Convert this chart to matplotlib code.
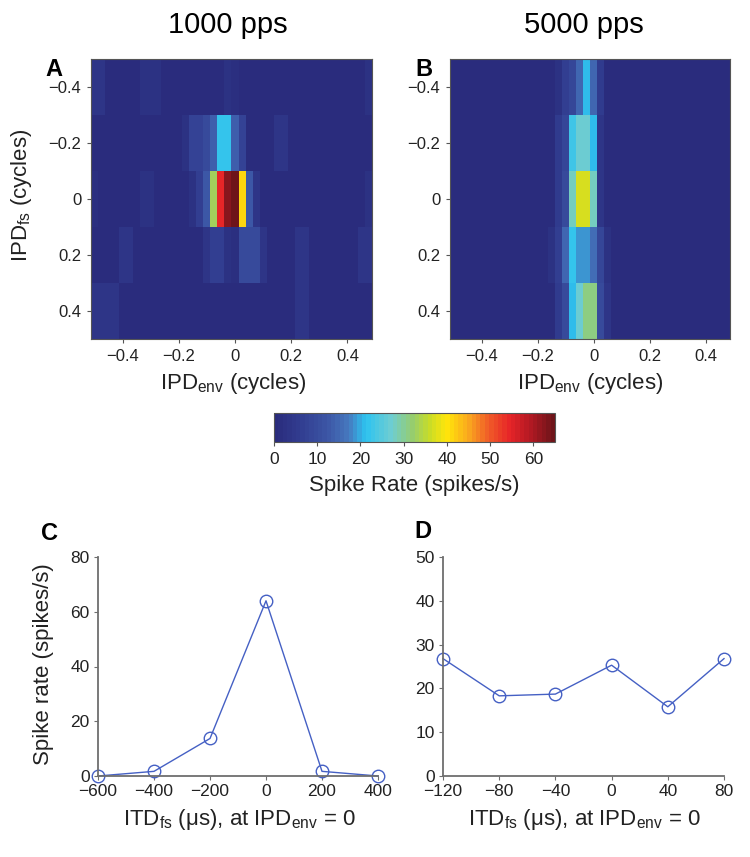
import matplotlib
matplotlib.use("Agg")
import matplotlib.pyplot as plt
import numpy as np
from matplotlib.colors import LinearSegmentedColormap
from matplotlib import font_manager

# ---------------- data ----------------
ipd_env = [round(-0.5 + 0.025 * i, 4) for i in range(40)]   # column centres (cycles)
ipd_fs = [-0.4, -0.2, 0.0, 0.2, 0.4]                         # row centres (cycles)
heat_ticks = [-0.4, -0.2, 0.0, 0.2, 0.4]
heat_tick_labels = ['\u22120.4', '\u22120.2', '0', '0.2', '0.4']

def row(base, cells):
    r = [base] * 40
    for k, v in cells.items():
        r[k] = v
    return r

rate_1000_r0 = row(0.5, {0: 4, 1: 4, 7: 3, 8: 3, 9: 3, 19: 3, 20: 1.7, 39: 2.5})
rate_1000_r1 = row(0.5, {13: 3, 14: 8, 15: 8, 16: 10, 17: 14, 18: 22, 19: 22, 20: 13.7, 21: 8, 26: 3.5, 27: 3.5})
rate_1000_r2 = row(0.5, {0: 2, 7: 3, 8: 3, 14: 3, 15: 7, 16: 13, 17: 33, 18: 54, 19: 62, 20: 64, 21: 41, 22: 13, 23: 4, 39: 2.5})
rate_1000_r3 = row(0.5, {4: 3.5, 5: 3.5, 16: 4, 17: 7, 18: 7, 19: 3, 20: 1.7, 21: 10, 22: 10, 23: 10, 24: 4, 29: 4, 30: 4, 38: 3.5, 39: 3.5})
rate_1000_r4 = row(0.5, {0: 4, 1: 4, 2: 4, 3: 3.5, 20: 0, 29: 3.5, 30: 3.5})

rate_5000_r0 = row(0.5, {15: 3, 16: 7, 17: 9, 18: 15, 19: 21, 20: 15, 21: 6})
rate_5000_r1 = row(0.5, {15: 6, 16: 9, 17: 23, 18: 27, 19: 27, 20: 21, 21: 4})
rate_5000_r2 = row(0.5, {15: 6, 16: 10, 17: 28, 18: 37, 19: 37, 20: 28, 21: 4})
rate_5000_r3 = row(0.5, {14: 3, 15: 7, 16: 15, 17: 22, 18: 19, 19: 19, 20: 16, 21: 9, 22: 3})
rate_5000_r4 = row(0.5, {15: 6, 16: 10, 17: 21, 18: 27, 19: 31, 20: 31, 21: 10, 22: 4})

itd_c = [-600, -400, -200, 0, 200, 400]
rate_c = [0, 1.7, 13.7, 64, 1.7, 0]
itd_d = [-120, -80, -40, 0, 40, 80]
rate_d = [26.8, 18.3, 18.7, 25.3, 15.8, 26.8]

cbar_ticks = [0, 10, 20, 30, 40, 50, 60]
vmax = 65

# ---------------- style ----------------
avail = {f.name for f in font_manager.fontManager.ttflist}
base_font = 'Liberation Sans' if 'Liberation Sans' in avail else 'DejaVu Sans'
plt.rcParams['font.family'] = [base_font, 'DejaVu Sans']
plt.rcParams['mathtext.fontset'] = 'custom'
plt.rcParams['mathtext.rm'] = base_font
plt.rcParams['mathtext.it'] = base_font + ':italic'
plt.rcParams['mathtext.bf'] = base_font + ':bold'

cmap_pts = [
    (0, (42, 44, 125)), (6, (50, 62, 145)), (12, (60, 85, 165)), (17, (70, 120, 190)),
    (21, (45, 195, 240)), (27, (110, 205, 210)), (32, (150, 205, 110)), (36, (200, 220, 40)),
    (40, (255, 230, 10)), (45, (250, 170, 30)), (50, (240, 90, 40)), (55, (230, 35, 40)),
    (60, (175, 25, 35)), (65, (110, 20, 25)),
]
cmap = LinearSegmentedColormap.from_list(
    'printjet', [(v / vmax, tuple(c / 255 for c in col)) for v, col in cmap_pts], N=64)

W, H = 750, 857
fig = plt.figure(figsize=(W / 100, H / 100), dpi=100)

def fx(px):
    return px / W

def fy(py):
    return 1 - py / H

def ax_rect(l, t, r, b):
    return [fx(l), fy(b), (r - l) / W, (b - t) / H]

spine_col = '#555555'
text_col = '#222222'

def heat(ax, rows):
    data = np.array(rows)
    dx = ipd_env[1] - ipd_env[0]
    dy = ipd_fs[1] - ipd_fs[0]
    ext = [ipd_env[0] - dx / 2, ipd_env[-1] + dx / 2, ipd_fs[-1] + dy / 2, ipd_fs[0] - dy / 2]
    im = ax.imshow(data, cmap=cmap, vmin=0, vmax=vmax, extent=ext, aspect='auto',
                   interpolation='nearest')
    ax.set_xticks(heat_ticks)
    ax.set_xticklabels(heat_tick_labels)
    ax.set_yticks(heat_ticks)
    ax.set_yticklabels(heat_tick_labels)
    ax.tick_params(direction='out', length=3, width=0.8, labelsize=12,
                   colors=spine_col, labelcolor=text_col, pad=4)
    for s in ax.spines.values():
        s.set_color(spine_col)
        s.set_linewidth(0.8)
    return im

axA = fig.add_axes(ax_rect(91, 59, 372, 339))
im = heat(axA, [rate_1000_r0, rate_1000_r1, rate_1000_r2, rate_1000_r3, rate_1000_r4])
axB = fig.add_axes(ax_rect(450, 59, 730, 339))
heat(axB, [rate_5000_r0, rate_5000_r1, rate_5000_r2, rate_5000_r3, rate_5000_r4])

cax = fig.add_axes(ax_rect(274, 413, 555, 442))
cb = fig.colorbar(im, cax=cax, orientation='horizontal', ticks=cbar_ticks)
cb.outline.set_edgecolor(spine_col)
cb.outline.set_linewidth(0.8)
cax.tick_params(direction='out', length=3, width=0.8, labelsize=12.5,
                colors=spine_col, labelcolor=text_col, pad=4)

def line_panel(ax, x, y, xt, yt, ylim):
    ax.plot(x, y, '-o', color='#4560c4', lw=1.0, ms=9, mfc='none', mew=1.0, clip_on=False)
    ax.set_xlim(x[0], x[-1])
    ax.set_ylim(*ylim)
    ax.set_xticks(xt)
    ax.set_xticklabels([str(v).replace('-', '\u2212') for v in xt])
    ax.set_yticks(yt)
    for s in ['top', 'right']:
        ax.spines[s].set_visible(False)
    for s in ['left', 'bottom']:
        ax.spines[s].set_color('#6e6e6e')
        ax.spines[s].set_linewidth(1.3)
    ax.tick_params(direction='out', length=3, width=0.8, labelsize=12.5,
                   colors='#6e6e6e', labelcolor=text_col, pad=3)

axC = fig.add_axes(ax_rect(98, 557, 378, 776))
line_panel(axC, itd_c, rate_c, itd_c, [0, 20, 40, 60, 80], (0, 80))
axD = fig.add_axes(ax_rect(443, 557, 724, 776))
line_panel(axD, itd_d, rate_d, itd_d, [0, 10, 20, 30, 40, 50], (0, 50))

# ---------------- texts ----------------
title_kw = dict(fontsize=21, color='black', ha='center', va='center')
fig.text(fx(228), fy(25), '1000 pps', **title_kw)
fig.text(fx(584), fy(25), '5000 pps', **title_kw)

let_kw = dict(fontsize=17, fontweight='bold', color='black', ha='center', va='center')
fig.text(fx(54), fy(70), 'A', **let_kw)
fig.text(fx(424), fy(70), 'B', **let_kw)
fig.text(fx(50), fy(533), 'C', **let_kw)
fig.text(fx(423), fy(532), 'D', **let_kw)

lab_kw = dict(fontsize=16, color=text_col, ha='center', va='center')
fig.text(fx(22), fy(195), 'IPD$_{\\mathrm{fs}}$ (cycles)', rotation=90, **lab_kw)
fig.text(fx(233), fy(384), 'IPD$_{\\mathrm{env}}$ (cycles)', **lab_kw)
fig.text(fx(590), fy(384), 'IPD$_{\\mathrm{env}}$ (cycles)', **lab_kw)
fig.text(fx(414), fy(485), 'Spike Rate (spikes/s)', **lab_kw)
fig.text(fx(44), fy(664), 'Spike rate (spikes/s)', rotation=90, **lab_kw)
fig.text(fx(239), fy(820), 'ITD$_{\\mathrm{fs}}$ (\u03bcs), at IPD$_{\\mathrm{env}}$ = 0', **lab_kw)
fig.text(fx(584), fy(820), 'ITD$_{\\mathrm{fs}}$ (\u03bcs), at IPD$_{\\mathrm{env}}$ = 0', **lab_kw)

fig.savefig('out.png', dpi=100)
